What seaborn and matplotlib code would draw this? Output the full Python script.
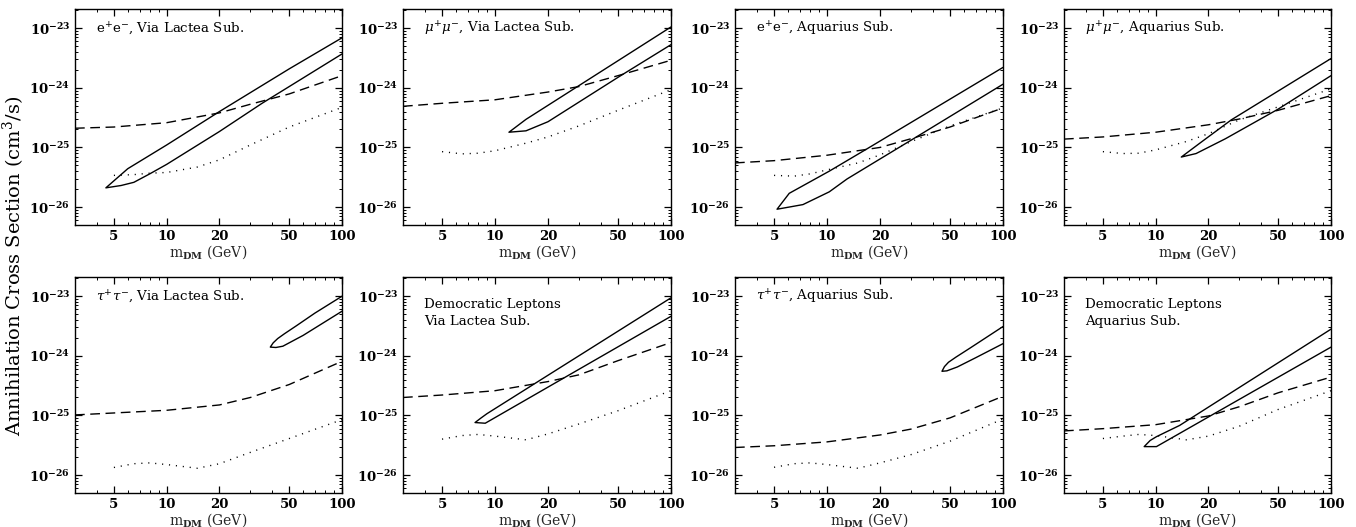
import numpy as np
import pandas as pd
import matplotlib
matplotlib.use("Agg")
import matplotlib.pyplot as plt
import matplotlib.ticker as mticker
import seaborn as sns

# ---------------- data ----------------
TITLES = [
    r"e$^{+}$e$^{-}$, Via Lactea Sub.",
    r"$\mu^{+}\mu^{-}$, Via Lactea Sub.",
    r"e$^{+}$e$^{-}$, Aquarius Sub.",
    r"$\mu^{+}\mu^{-}$, Aquarius Sub.",
    r"$\tau^{+}\tau^{-}$, Via Lactea Sub.",
    "Democratic Leptons\nVia Lactea Sub.",
    r"$\tau^{+}\tau^{-}$, Aquarius Sub.",
    "Democratic Leptons\nAquarius Sub.",
]

# dashed curves (common mass grid, GeV)
DASH_X = [3, 5, 10, 20, 30, 50, 100]
DASH_Y1 = [2.1e-25, 2.2e-25, 2.6e-25, 3.8e-25, 5.3e-25, 7.9e-25, 1.6e-24]
DASH_Y2 = [4.9e-25, 5.5e-25, 6.3e-25, 8.5e-25, 1.05e-24, 1.6e-24, 2.9e-24]
DASH_Y3 = [5.5e-26, 6.0e-26, 7.4e-26, 1.0e-25, 1.4e-25, 2.2e-25, 4.6e-25]
DASH_Y4 = [1.38e-25, 1.5e-25, 1.8e-25, 2.4e-25, 3.0e-25, 4.2e-25, 7.4e-25]
DASH_Y5 = [1.02e-25, 1.1e-25, 1.22e-25, 1.5e-25, 2.0e-25, 3.3e-25, 8.1e-25]
DASH_Y6 = [2.0e-25, 2.2e-25, 2.6e-25, 3.7e-25, 4.8e-25, 8.3e-25, 1.67e-24]
DASH_Y7 = [2.9e-26, 3.1e-26, 3.6e-26, 4.7e-26, 5.9e-26, 9.1e-26, 2.1e-25]
DASH_Y8 = [5.5e-26, 6.0e-26, 7.0e-26, 9.8e-26, 1.4e-25, 2.4e-25, 4.4e-25]

# dotted curves (common mass grid, GeV)
DOT_X = [5, 6.5, 8, 10, 15, 20, 30, 50, 100]
DOT_Y1 = [3.4e-26, 3.5e-26, 3.7e-26, 3.8e-26, 4.7e-26, 6.2e-26, 1.1e-25, 2.2e-25, 4.7e-25]
DOT_Y2 = [8.5e-26, 7.8e-26, 8.0e-26, 8.8e-26, 1.18e-25, 1.5e-25, 2.3e-25, 4.2e-25, 9.3e-25]
DOT_Y3 = [3.4e-26, 3.3e-26, 3.6e-26, 4.2e-26, 5.5e-26, 7.5e-26, 1.25e-25, 2.3e-25, 4.6e-25]
DOT_Y4 = [8.5e-26, 7.9e-26, 8.0e-26, 9.1e-26, 1.26e-25, 1.7e-25, 2.9e-25, 4.8e-25, 9.6e-25]
DOT_Y5 = [1.34e-26, 1.55e-26, 1.6e-26, 1.5e-26, 1.3e-26, 1.55e-26, 2.4e-26, 4.1e-26, 8.5e-26]
DOT_Y6 = [4.0e-26, 4.6e-26, 4.8e-26, 4.5e-26, 3.9e-26, 4.9e-26, 7.2e-26, 1.2e-25, 2.6e-25]
DOT_Y7 = [1.35e-26, 1.55e-26, 1.6e-26, 1.5e-26, 1.3e-26, 1.6e-26, 2.2e-26, 3.7e-26, 8.7e-26]
DOT_Y8 = [4.1e-26, 4.5e-26, 4.8e-26, 4.6e-26, 3.9e-26, 4.5e-26, 6.6e-26, 1.26e-25, 2.6e-25]

# closed contour regions: upper and lower branches, each from the tip to 100 GeV
UP_X1 = [4.5, 6, 10, 20, 50, 100]
UP_Y1 = [2.1e-26, 4.4e-26, 1.1e-25, 4.0e-25, 2.08e-24, 6.9e-24]
LO_X1 = [4.5, 5.5, 6.5, 8, 10, 20, 35, 50, 100]
LO_Y1 = [2.1e-26, 2.3e-26, 2.6e-26, 3.6e-26, 5.2e-26, 1.85e-25, 5.5e-25, 1.05e-24, 3.7e-24]

UP_X2 = [12, 15, 30, 100]
UP_Y2 = [1.8e-25, 2.96e-25, 1.09e-24, 1.05e-23]
LO_X2 = [12, 15, 20, 50, 100]
LO_Y2 = [1.8e-25, 1.9e-25, 2.7e-25, 1.5e-24, 5.3e-24]

UP_X3 = [5.2, 6.1, 10.3, 17, 100]
UP_Y3 = [9.2e-27, 1.7e-26, 4.0e-26, 9.6e-26, 2.2e-24]
LO_X3 = [5.2, 6.1, 7.3, 10.3, 13, 20, 30, 100]
LO_Y3 = [9.2e-27, 1.0e-26, 1.1e-26, 1.8e-26, 2.96e-26, 6.4e-26, 1.32e-25, 1.15e-24]

UP_X4 = [14, 18, 27, 100]
UP_Y4 = [6.9e-26, 1.2e-25, 2.9e-25, 3.1e-24]
LO_X4 = [14, 17, 25, 50, 100]
LO_Y4 = [6.9e-26, 7.9e-26, 1.4e-25, 4.4e-25, 1.6e-24]

UP_X5 = [39, 40.5, 43, 47, 55, 70, 100]
UP_Y5 = [1.4e-24, 1.65e-24, 1.95e-24, 2.35e-24, 3.2e-24, 5.2e-24, 1.0e-23]
LO_X5 = [39, 42, 46, 60, 100]
LO_Y5 = [1.4e-24, 1.38e-24, 1.45e-24, 2.2e-24, 5.6e-24]

UP_X6 = [7.7, 8.3, 9, 100]
UP_Y6 = [7.6e-26, 9.0e-26, 1.07e-25, 9.4e-24]
LO_X6 = [7.7, 8.8, 100]
LO_Y6 = [7.6e-26, 7.4e-26, 4.6e-24]

UP_X7 = [45, 46.5, 49, 54, 65, 100]
UP_Y7 = [5.5e-25, 6.6e-25, 7.8e-25, 9.5e-25, 1.35e-24, 3.1e-24]
LO_X7 = [45, 48, 55, 70, 100]
LO_Y7 = [5.5e-25, 5.6e-25, 6.5e-25, 9.3e-25, 1.6e-24]

UP_X8 = [8.6, 9.3, 10.1, 13.7, 100]
UP_Y8 = [3.0e-26, 3.8e-26, 4.4e-26, 6.8e-26, 2.8e-24]
LO_X8 = [8.6, 10.1, 100]
LO_Y8 = [3.0e-26, 3.0e-26, 1.4e-24]

X_TICKS = [5, 10, 20, 50, 100]
X_TICK_LABELS = ["5", "10", "20", "50", "100"]
Y_TICKS = [1e-26, 1e-25, 1e-24, 1e-23]
Y_TICK_LABELS = [r"$\mathbf{10^{-26}}$", r"$\mathbf{10^{-25}}$",
                 r"$\mathbf{10^{-24}}$", r"$\mathbf{10^{-23}}$"]
X_LABEL = r"m$_{\mathbf{DM}}$ (GeV)"
Y_LABEL = r"Annihilation Cross Section (cm$^{3}$/s)"

DASH_Y = [DASH_Y1, DASH_Y2, DASH_Y3, DASH_Y4, DASH_Y5, DASH_Y6, DASH_Y7, DASH_Y8]
DOT_Y = [DOT_Y1, DOT_Y2, DOT_Y3, DOT_Y4, DOT_Y5, DOT_Y6, DOT_Y7, DOT_Y8]
UP = [(UP_X1, UP_Y1), (UP_X2, UP_Y2), (UP_X3, UP_Y3), (UP_X4, UP_Y4),
      (UP_X5, UP_Y5), (UP_X6, UP_Y6), (UP_X7, UP_Y7), (UP_X8, UP_Y8)]
LO = [(LO_X1, LO_Y1), (LO_X2, LO_Y2), (LO_X3, LO_Y3), (LO_X4, LO_Y4),
      (LO_X5, LO_Y5), (LO_X6, LO_Y6), (LO_X7, LO_Y7), (LO_X8, LO_Y8)]

# ---------------- style ----------------
sns.set_style("ticks")
plt.rcParams["font.family"] = ["DejaVu Serif"]
plt.rcParams["mathtext.fontset"] = "dejavuserif"
plt.rcParams["axes.linewidth"] = 1.0

W, H = 1356, 527
fig = plt.figure(figsize=(W / 100, H / 100), dpi=100)

col_left = [75, 403, 735, 1064]
col_w = [267, 268, 268, 267]
row_top = [9, 277]
ax_h = 216

for i in range(8):
    r, c = divmod(i, 4)
    rect = [col_left[c] / W, 1 - (row_top[r] + ax_h) / H, col_w[c] / W, ax_h / H]
    ax = fig.add_axes(rect)
    ax.set_xscale("log")
    ax.set_yscale("log")

    # dashed
    sns.lineplot(x=DASH_X, y=DASH_Y[i], ax=ax, color="black", linewidth=1.0,
                 estimator=None, sort=False, linestyle=(0, (7, 4)))
    # dotted
    sns.lineplot(x=DOT_X, y=DOT_Y[i], ax=ax, color="black", linewidth=1.0,
                 estimator=None, sort=False, linestyle=(0, (0.8, 4.2)))
    # contour: lower branch reversed (100 -> tip) then upper branch (tip -> 100)
    lx, ly = LO[i]
    ux, uy = UP[i]
    cont = pd.DataFrame({"x": list(lx[::-1]) + list(ux[1:]),
                         "y": list(ly[::-1]) + list(uy[1:])})
    sns.lineplot(data=cont, x="x", y="y", ax=ax, color="black", linewidth=1.0,
                 estimator=None, sort=False)

    ax.set_xlim(3, 100)
    ax.set_ylim(5e-27, 2.1e-23)

    ax.xaxis.set_major_locator(mticker.FixedLocator(X_TICKS))
    ax.xaxis.set_major_formatter(mticker.FixedFormatter(X_TICK_LABELS))
    ax.xaxis.set_minor_locator(mticker.FixedLocator([3, 4, 6, 7, 8, 9, 30, 40, 60, 70, 80, 90]))
    ax.xaxis.set_minor_formatter(mticker.NullFormatter())
    ax.yaxis.set_major_locator(mticker.FixedLocator(Y_TICKS))
    ax.yaxis.set_major_formatter(mticker.FixedFormatter(Y_TICK_LABELS))
    ax.yaxis.set_minor_locator(mticker.LogLocator(base=10, subs=np.arange(2, 10), numticks=20))
    ax.yaxis.set_minor_formatter(mticker.NullFormatter())

    ax.tick_params(which="both", direction="in", top=True, right=True, colors="black",
                   labelsize=9.5)
    ax.tick_params(which="major", length=5, width=0.9, pad=3.5)
    ax.tick_params(which="minor", length=2.5, width=0.7)
    for lab in ax.get_xticklabels():
        lab.set_fontweight("bold")
    for sp in ax.spines.values():
        sp.set_visible(True)
        sp.set_color("black")
        sp.set_linewidth(1.0)

    ax.set_xlabel(X_LABEL, fontsize=10, labelpad=0)
    ax.set_ylabel("")
    if "\n" in TITLES[i]:
        ax.text(0.08, 0.833, TITLES[i], transform=ax.transAxes, fontsize=9.6,
                ha="left", va="center", linespacing=1.4, color="black")
    else:
        ax.text(0.08, 0.91, TITLES[i], transform=ax.transAxes, fontsize=9.6,
                ha="left", va="center", color="black")

fig.text(14 / W, 1 - 266 / H, Y_LABEL, rotation=90, ha="center", va="center",
         fontsize=14, color="black")

fig.savefig("out.png", dpi=100, facecolor="white")
